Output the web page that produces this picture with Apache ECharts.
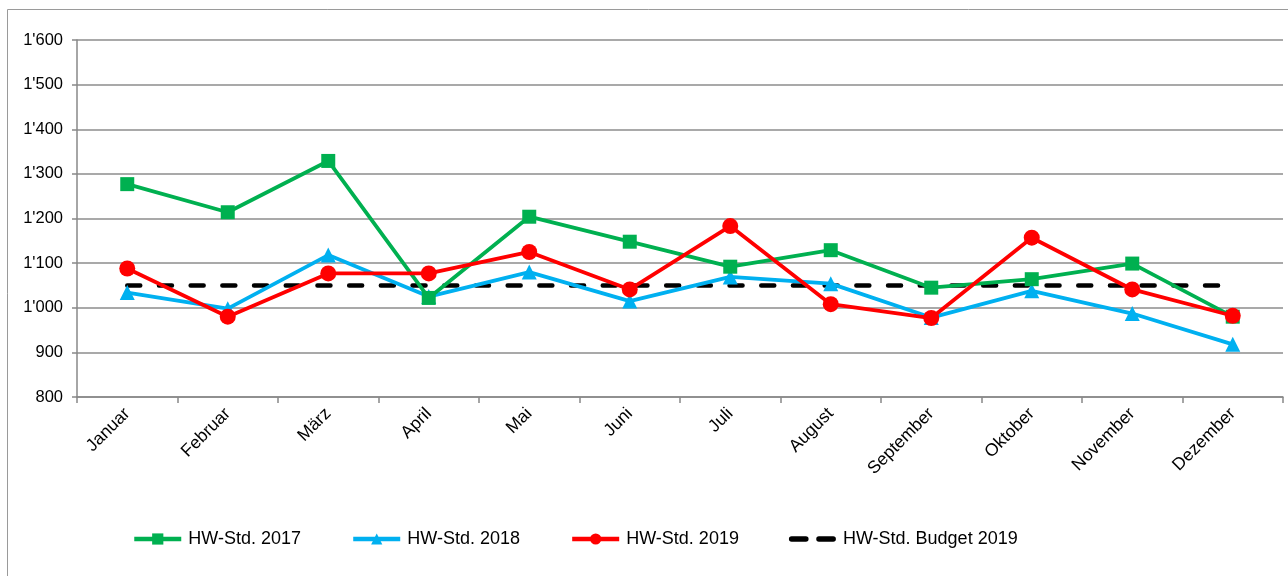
<!DOCTYPE html>
<html><head><meta charset="utf-8">
<script src="https://cdn.jsdelivr.net/npm/echarts@6/dist/echarts.min.js"></script>
<style>html,body{margin:0;padding:0;background:#fff}#c{width:1288px;height:576px}</style>
</head><body><div id="c"></div>
<script>
const categories = ['Januar','Februar','März','April','Mai','Juni','Juli','August','September','Oktober','November','Dezember'];
const hw2017 = [1277,1214,1329,1022,1204,1148,1092,1129,1045,1064,1099,980];
const hw2018 = [1034,998,1118,1025,1080,1015,1069,1054,978,1038,987,918];
const hw2019 = [1088,980,1077,1077,1125,1041,1183,1008,977,1157,1041,982];
const budget2019 = [1050,1050,1050,1050,1050,1050,1050,1050,1050,1050,1050,1050];
const names = ['HW-Std. 2017','HW-Std. 2018','HW-Std. 2019','HW-Std. Budget 2019'];

const font = 'Liberation Sans, Arial, sans-serif';
const chart = echarts.init(document.getElementById('c'));
function fmt(v){ const s=String(v); return s.length>3 ? s.slice(0,s.length-3)+"'"+s.slice(-3) : s; }
chart.setOption({
  animation:false,
  graphic:[{type:'rect',shape:{x:7.5,y:9.5,width:1290,height:580},style:{fill:'none',stroke:'#9a9a9a',lineWidth:1},silent:true}],
  grid:{left:77,right:5,top:40,bottom:179,containLabel:false},
  legend:{bottom:23,left:127,itemWidth:47,itemHeight:14,itemGap:50,
    lineStyle:{width:4.5},
    textStyle:{fontFamily:font,fontSize:18,color:'#000',padding:[0,0,0,2]},
    data:[{name:names[0]},{name:names[1]},{name:names[2]},
      {name:names[3],icon:'path://M1,0H14A1,1 0 0 1 14,5H1A1,1 0 0 1 1,0Z M26,0H39A1,1 0 0 1 39,5H26A1,1 0 0 1 26,0Z',itemStyle:{color:'#000'}}]},
  xAxis:{type:'category',data:categories,boundaryGap:true,
    axisLine:{lineStyle:{color:'#888',width:1.5}},
    axisTick:{show:true,length:6,lineStyle:{color:'#888',width:1.5},alignWithLabel:false},
    axisLabel:{rotate:45,fontFamily:font,fontSize:17.5,color:'#000',margin:14,interval:0}},
  yAxis:{type:'value',min:800,max:1600,interval:100,
    axisLine:{show:true,lineStyle:{color:'#888',width:1.5}},
    axisTick:{show:true,length:5,lineStyle:{color:'#888',width:1.5}},
    splitLine:{lineStyle:{color:'#8c8c8c',width:1.5}},
    axisLabel:{fontFamily:font,fontSize:16.5,color:'#000',margin:14,formatter:fmt}},
  series:[
    {name:names[0],type:'line',data:hw2017,symbol:'rect',symbolSize:14,lineStyle:{color:'#00b050',width:3.8},itemStyle:{color:'#00b050'},z:3},
    {name:names[1],type:'line',data:hw2018,symbol:'triangle',symbolSize:15,lineStyle:{color:'#00b0f0',width:3.8},itemStyle:{color:'#00b0f0'},z:2},
    {name:names[2],type:'line',data:hw2019,symbol:'circle',symbolSize:16,lineStyle:{color:'#ff0000',width:3.8},itemStyle:{color:'#ff0000'},z:4},
    {name:names[3],type:'line',data:budget2019,symbol:'none',lineStyle:{color:'#000',width:4.5,type:[13,18.7],cap:'round'},itemStyle:{color:'#000'},z:1}
  ]
});
</script></body></html>
